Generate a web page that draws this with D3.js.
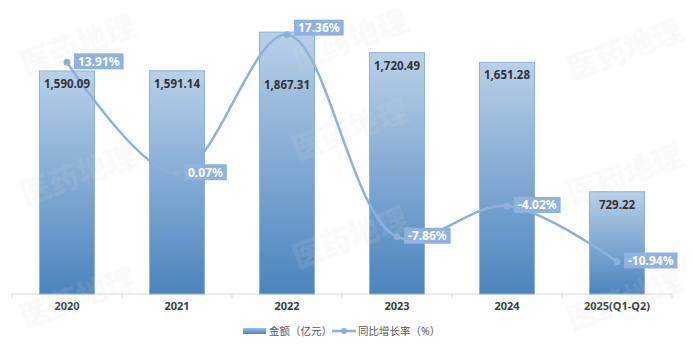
<!DOCTYPE html>
<html>
<head>
<meta charset="utf-8">
<script src="https://cdn.jsdelivr.net/npm/d3@7"></script>
<style>
  body { margin: 0; background: #fff; }
  text { font-family: "Noto Sans", "Noto Sans CJK SC", sans-serif; }
</style>
</head>
<body>
<svg id="chart"></svg>
<script>
// data
var years = ["2020", "2021", "2022", "2023", "2024", "2025(Q1-Q2)"];
var amount = [1590.09, 1591.14, 1867.31, 1720.49, 1651.28, 729.22];
var growth = [13.91, 0.07, 17.36, -7.86, -4.02, -10.94];
var legendNames = ["金额（亿元）", "同比增长率（%）"];

var width = 692, height = 352;
var svg = d3.select("#chart").attr("width", width).attr("height", height);

var x = d3.scaleBand().domain(years).range([12, 672]).paddingInner(0.5).paddingOuter(0.25);
var y = d3.scaleLinear().domain([0, 2000]).range([294, 13.5]);
var y2 = d3.scaleLinear().domain([-15, 20]).range([294, 13.5]);
var step = x.step();

// gradient for bars
var defs = svg.append("defs");
var grad = defs.append("linearGradient").attr("id", "barGrad")
  .attr("x1", 0).attr("y1", 0).attr("x2", 0).attr("y2", 1);
grad.append("stop").attr("offset", "0%").attr("stop-color", "#b9d0e9");
grad.append("stop").attr("offset", "100%").attr("stop-color", "#4b84bd");
var gradL = defs.append("linearGradient").attr("id", "legGrad")
  .attr("x1", 0).attr("y1", 0).attr("x2", 0).attr("y2", 1);
gradL.append("stop").attr("offset", "0%").attr("stop-color", "#9dbde0");
gradL.append("stop").attr("offset", "100%").attr("stop-color", "#4b84bd");

// x axis line + ticks
var axis = svg.append("g").attr("transform", "translate(0,294)");
axis.append("line").attr("x1", 12).attr("x2", 672).attr("stroke", "#d9d9d9");
axis.selectAll(".tk").data(d3.range(years.length + 1)).enter().append("line")
  .attr("x1", (i) => 12 + i * step).attr("x2", (i) => 12 + i * step)
  .attr("y1", 0).attr("y2", 4).attr("stroke", "#d9d9d9");
axis.selectAll(".lbl").data(years).enter().append("text")
  .attr("x", (d) => x(d) + x.bandwidth() / 2)
  .attr("y", 16)
  .attr("text-anchor", "middle")
  .attr("font-size", 11).attr("font-weight", "bold").attr("fill", "#404040")
  .text((d) => d);

// bars
svg.selectAll(".bar").data(amount).enter().append("rect")
  .attr("x", (d, i) => x(years[i]))
  .attr("y", (d) => y(d))
  .attr("width", x.bandwidth())
  .attr("height", (d) => y(0) - y(d))
  .attr("fill", "url(#barGrad)")
  .attr("stroke", "#8fb1d8").attr("stroke-width", 1);

// watermark
var wmX = [78, 350, 625], wmY = [[45, 175, 298], [40, 130, 238], [50, 175, 300]];
wmX.forEach(function (cx, c) {
  wmY[c].forEach(function (cy) {
    svg.append("text")
      .attr("transform", "translate(" + cx + "," + cy + ") rotate(-20)")
      .attr("text-anchor", "middle").attr("dy", "0.35em")
      .attr("font-family", "Noto Sans CJK SC").attr("font-weight", 900)
      .attr("font-size", 30).attr("fill", "#dcdcdc").attr("opacity", 0.12)
      .text("医药地理");
  });
});

// line
var line = d3.line()
  .x((d, i) => x(years[i]) + x.bandwidth() / 2)
  .y((d) => y2(d))
  .curve(d3.curveCatmullRom.alpha(0.5));
svg.append("path").datum(growth)
  .attr("d", line).attr("fill", "none")
  .attr("stroke", "#8eb1dc").attr("stroke-width", 2.5);
svg.selectAll(".dot").data(growth).enter().append("circle")
  .attr("cx", (d, i) => x(years[i]) + x.bandwidth() / 2)
  .attr("cy", (d) => y2(d)).attr("r", 3.5).attr("fill", "#8eb1dc");

// bar labels (2022 label pushed down under the line)
var barLabelNudge = { "2022": 40 };
svg.selectAll(".blab").data(amount).enter().append("text")
  .attr("x", (d, i) => x(years[i]) + x.bandwidth() / 2)
  .attr("y", (d, i) => y(d) + 17 + (barLabelNudge[years[i]] || 0))
  .attr("text-anchor", "middle")
  .attr("font-size", 11.5).attr("font-weight", "bold").attr("fill", "#333")
  .text((d) => d3.format(",.2f")(d));

// percent labels
var pctNudge = { "2022": -6 };
growth.forEach(function (d, i) {
  var cx = x(years[i]) + x.bandwidth() / 2 + 7;
  var cy = y2(d) - 1 + (pctNudge[years[i]] || 0);
  var g = svg.append("g");
  var t = g.append("text").attr("x", cx + 4).attr("y", cy).attr("dy", "0.36em")
    .attr("font-size", 12).attr("font-weight", "bold").attr("fill", "#fff")
    .text(d.toFixed(2) + "%");
  var w = t.node().getComputedTextLength();
  g.insert("rect", "text").attr("x", cx).attr("y", cy - 8)
    .attr("width", w + 8).attr("height", 16).attr("fill", "#8fb3de");
});

// legend
var leg = svg.append("g");
leg.append("rect").attr("x", 243).attr("y", 328).attr("width", 23).attr("height", 6)
  .attr("fill", "url(#legGrad)");
leg.append("text").attr("x", 269).attr("y", 331).attr("dy", "0.35em")
  .attr("font-size", 10.5).attr("fill", "#595959").text(legendNames[0]);
leg.append("line").attr("x1", 332).attr("x2", 356).attr("y1", 331).attr("y2", 331)
  .attr("stroke", "#8eb1dc").attr("stroke-width", 2.5);
leg.append("circle").attr("cx", 344).attr("cy", 331).attr("r", 3).attr("fill", "#8eb1dc");
leg.append("text").attr("x", 358).attr("y", 331).attr("dy", "0.35em")
  .attr("font-size", 10.5).attr("fill", "#595959").text(legendNames[1]);
</script>
</body>
</html>
